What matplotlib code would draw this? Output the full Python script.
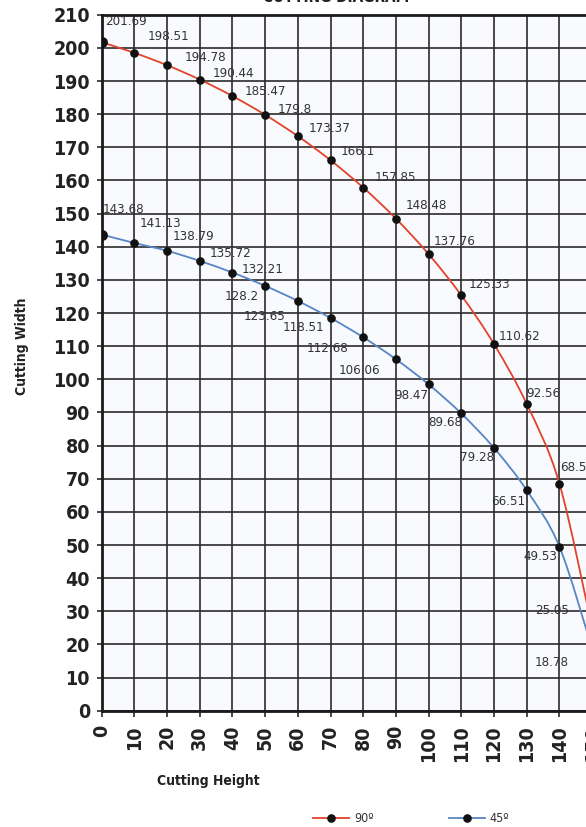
#!/usr/bin/env python3
"""Cutting diagram: cutting width against cutting height at 90 and 45 degrees."""

import matplotlib

matplotlib.use("Agg")

import matplotlib.pyplot as plt
import numpy as np
from matplotlib.lines import Line2D
from matplotlib.patches import PathPatch
from matplotlib.path import Path

plt.rcParams["font.family"] = ["DejaVu Sans"]
plt.rcParams["font.stretch"] = "condensed"

# chart values
heights = [0, 10, 20, 30, 40, 50, 60, 70, 80, 90, 100, 110, 120, 130, 140, 150]
width_90 = [201.69, 198.51, 194.78, 190.44, 185.47, 179.8, 173.37, 166.1,
            157.85, 148.48, 137.76, 125.33, 110.62, 92.56, 68.54, 25.05]
width_45 = [143.68, 141.13, 138.79, 135.72, 132.21, 128.2, 123.65, 118.51,
            112.68, 106.06, 98.47, 89.68, 79.28, 66.51, 49.53, 18.78]
x_ticks = list(range(0, 151, 10))
y_ticks = list(range(0, 211, 10))
series_names = ["90º", "45º"]

# where each value label sits, in pixels from its point
offsets_90 = [(24, 21), (34, 16), (38, 8), (34, 6), (33, 5), (30, 5), (32, 8), (27, 9),
              (32, 10), (30, 13), (26, 13), (28, 11), (26, 8), (17, 10), (18, 16), (-40, 17)]
offsets_45 = [(22, 25), (26, 19), (27, 14), (31, 7), (30, 3), (-23, -11), (-33, -16),
              (-27, -10), (-36, -11), (-36, -11), (-17, -11), (-16, -9), (-17, -10),
              (-19, -11), (-19, -10), (-40, -14)]

RED = "#e2432a"
BLUE = "#5686c4"
GRID = "#2e2a2a"


def smooth_path(xs, ys):
    """Catmull-Rom style smooth curve through the points as cubic Beziers."""
    p = np.column_stack([xs, ys]).astype(float)
    ext = np.vstack([p[0], p, p[-1]])
    verts = [p[0]]
    codes = [Path.MOVETO]
    for i in range(len(p) - 1):
        p0, p1, p2, p3 = ext[i], ext[i + 1], ext[i + 2], ext[i + 3]
        verts += [p1 + (p2 - p0) / 6.0, p2 - (p3 - p1) / 6.0, p2]
        codes += [Path.CURVE4] * 3
    return Path(verts, codes)


def draw_series(ax, ys, color, offsets):
    ax.add_patch(PathPatch(smooth_path(heights, ys), fill=False,
                           edgecolor=color, lw=1.3, zorder=3))
    ax.plot(heights, ys, "o", color="#111111", ms=5.2, ls="none", zorder=4)
    ax.plot(heights[:1], ys[:1], "o", color="#111111", ms=6.8, ls="none", zorder=4)
    for x, y, (dx, dy) in zip(heights, ys, offsets):
        ax.annotate(f"{y:g}", (x, y), xytext=(dx, dy), textcoords="offset pixels",
                    ha="center", va="center", fontsize=9.5, color="#333333",
                    zorder=5, annotation_clip=False)


def main() -> None:
    fig = plt.figure(figsize=(5.86, 8.27), dpi=100)
    fig.patch.set_facecolor("white")
    ax = fig.add_axes([0.1734, 0.1406, 0.8928, 0.8416])
    ax.set_facecolor("#f8fafd")

    ax.set_xlim(0, 160)
    ax.set_ylim(0, 210)
    ax.set_xticks(x_ticks)
    ax.set_yticks(y_ticks)
    ax.grid(True, color=GRID, lw=1.2)
    ax.set_axisbelow(True)

    for side in ["left", "bottom", "top"]:
        ax.spines[side].set_color("#1a1a1a")
        ax.spines[side].set_linewidth(2.0)
    ax.spines["right"].set_visible(False)

    ax.tick_params(axis="y", length=3.6, width=1.2, color=GRID, pad=4.8,
                   labelsize=14, labelcolor="#222222")
    ax.tick_params(axis="x", length=4.3, width=1.2, color=GRID, pad=6,
                   labelsize=14, labelcolor="#222222", labelrotation=90)
    for lab in ax.get_xticklabels() + ax.get_yticklabels():
        lab.set_fontweight("bold")

    draw_series(ax, width_90, RED, offsets_90)
    draw_series(ax, width_45, BLUE, offsets_45)

    fig.text(22 / 586, 1 - 346 / 827, "Cutting Width", rotation=90, ha="center",
             va="center", fontsize=10, fontweight="bold", color="#222222")
    fig.text(208 / 586, 1 - 781 / 827, "Cutting Height", ha="center", va="center",
             fontsize=10, fontweight="bold", color="#222222")
    fig.text(336 / 586, 1 - 2.2 / 827, "CUTTING DIAGRAM", ha="center", va="baseline",
             fontsize=11, fontweight="bold", color="#222222")

    handles = [
        Line2D([], [], color=RED, lw=1.3, marker="o", mfc="#111111", mec="#111111", ms=5.2),
        Line2D([], [], color=BLUE, lw=1.3, marker="o", mfc="#111111", mec="#111111", ms=5.2),
    ]
    fig.legend(handles, series_names, loc="center", bbox_to_anchor=(411 / 586, 1 - 819 / 827),
               ncol=2, frameon=False, fontsize=9, handlelength=2.9, handletextpad=0.4,
               columnspacing=6.0, labelcolor="#333333", borderaxespad=0, borderpad=0)

    fig.savefig("out.png", dpi=100)
    plt.close(fig)


if __name__ == "__main__":
    main()
